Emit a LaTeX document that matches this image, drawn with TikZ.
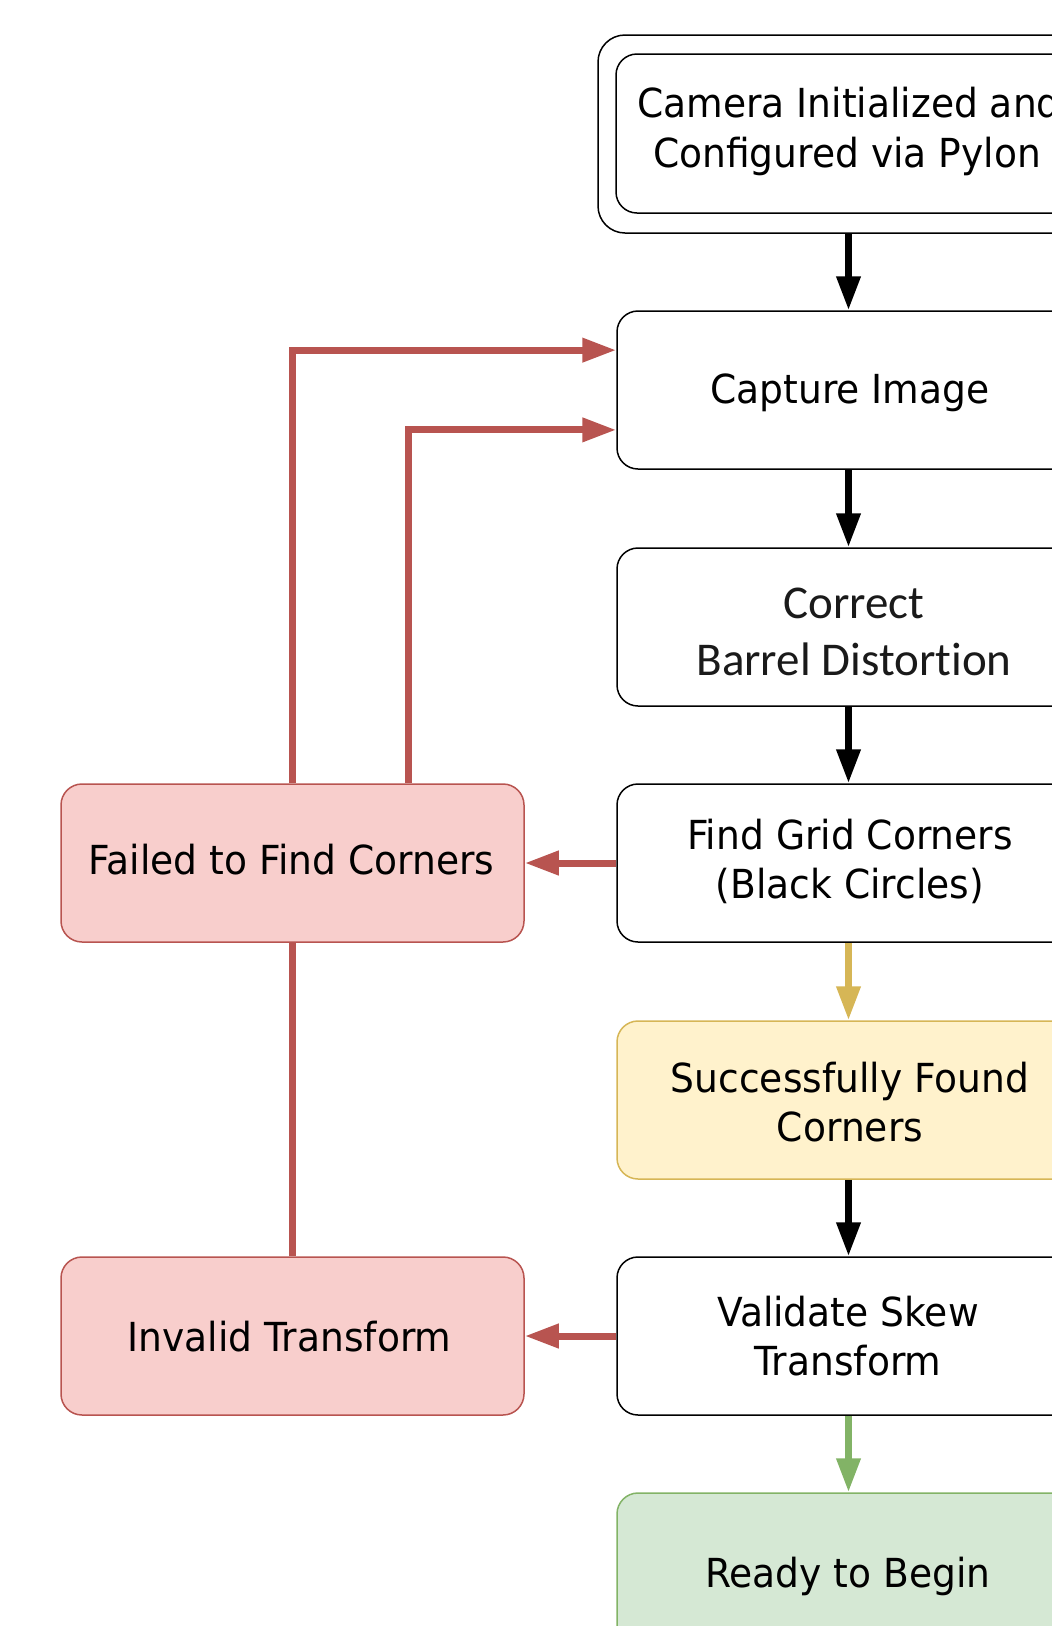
\documentclass[tikz,border=0pt]{standalone}
\usepackage{fontspec}
\setmainfont{DejaVu Sans}[FakeStretch=0.94]
\newfontfamily\calibrifont{Carlito}[Ligatures=NoCommon]
\usetikzlibrary{arrows.meta,calc}

\definecolor{redfill}{HTML}{F8CECC}
\definecolor{redline}{HTML}{B85450}
\definecolor{yelfill}{HTML}{FFF2CC}
\definecolor{yelline}{HTML}{D6B656}
\definecolor{grnfill}{HTML}{D5E8D4}
\definecolor{grnline}{HTML}{82B366}
\definecolor{darktext}{HTML}{1A1A1A}

\tikzset{
  box/.style={draw=black, fill=white, line width=1.5pt, rounded corners=21pt,
    minimum width=463pt, minimum height=158pt, inner sep=0pt},
  failbox/.style={box, draw=redline, fill=redfill},
  okbox/.style={box, draw=yelline, fill=yelfill},
  donebox/.style={box, draw=grnline, fill=grnfill},
  label/.style={font=\fontsize{40}{48}\selectfont, inner sep=0pt, anchor=base},
  flow/.style={line width=7pt, -{Triangle[length=34pt,width=23pt]}},
  failflow/.style={flow, draw=redline},
}

\begin{document}
\begin{tikzpicture}[x=1pt,y=-1pt]
\useasboundingbox (0,0) rectangle (1052,1626);
\clip (0,0) rectangle (1052,1626);

% start state: double-bordered box
\node[box, minimum width=501pt, minimum height=198pt, rounded corners=27pt] (camouter) at (848.5,134) {};
\node[box, minimum width=464pt, minimum height=159pt] (camera) at (848,133.5) {};
\node[label] (camera-l1) at (849,117.5) {Camera Initialized and};
\node[label] (camera-l2) at (847,167) {Configured via Pylon};

% main column
\node[box] (capture) at (848.5,390) {};
\node[label] (capture-l1) at (850,403.5) {Capture Image};

\node[box] (correct) at (848.5,627) {};
\node[label, font=\calibrifont\fontsize{47}{57}\selectfont, text=darktext] (correct-l1) at (854,618.5) {Correct};
\node[label, font=\calibrifont\fontsize{47}{57}\selectfont, text=darktext] (correct-l2) at (854,675.5) {Barrel Distortion};

\node[box] (findgrid) at (848.5,863) {};
\node[label] (findgrid-l1) at (850,849) {Find Grid Corners};
\node[label] (findgrid-l2) at (850,898.5) {(Black Circles)};

\node[okbox] (found) at (848.5,1100) {};
\node[label] (found-l1) at (850,1092.5) {Successfully Found};
\node[label] (found-l2) at (850,1141) {Corners};

\node[box] (validate) at (848.5,1336) {};
\node[label] (validate-l1) at (848,1326) {Validate Skew};
\node[label] (validate-l2) at (848,1375) {Transform};

\node[donebox] (ready) at (848.5,1572) {};
\node[label] (ready-l1) at (848,1587) {Ready to Begin};

% failure states
\node[failbox] (failed) at (292.5,863) {};
\node[label] (failed-l1) at (291.5,874) {Failed to Find Corners};

\node[failbox] (invalid) at (292.5,1336) {};
\node[label] (invalid-l1) at (289.5,1351) {Invalid Transform};

% main flow
\draw[flow] (camouter.south) -- (capture.north);
\draw[flow] (capture.south) -- (correct.north);
\draw[flow] (correct.south) -- (findgrid.north);
\draw[flow, draw=yelline] (findgrid.south) -- (found.north);
\draw[flow] (found.south) -- (validate.north);
\draw[flow, draw=grnline] (validate.south) -- (ready.north);

% failure branches
\draw[failflow] (findgrid.west) -- (failed.east);
\draw[failflow] (validate.west) -- (invalid.east);
\draw[line width=7pt, draw=redline] (invalid.north) -- (failed.south);

% retry loops back to capture
\draw[failflow] (failed.north) |- ($(capture.north west)!0.25!(capture.south west)$);
\draw[failflow] ($(failed.north west)!0.75!(failed.north east)$) |- ($(capture.north west)!0.75!(capture.south west)$);
\end{tikzpicture}
\end{document}
